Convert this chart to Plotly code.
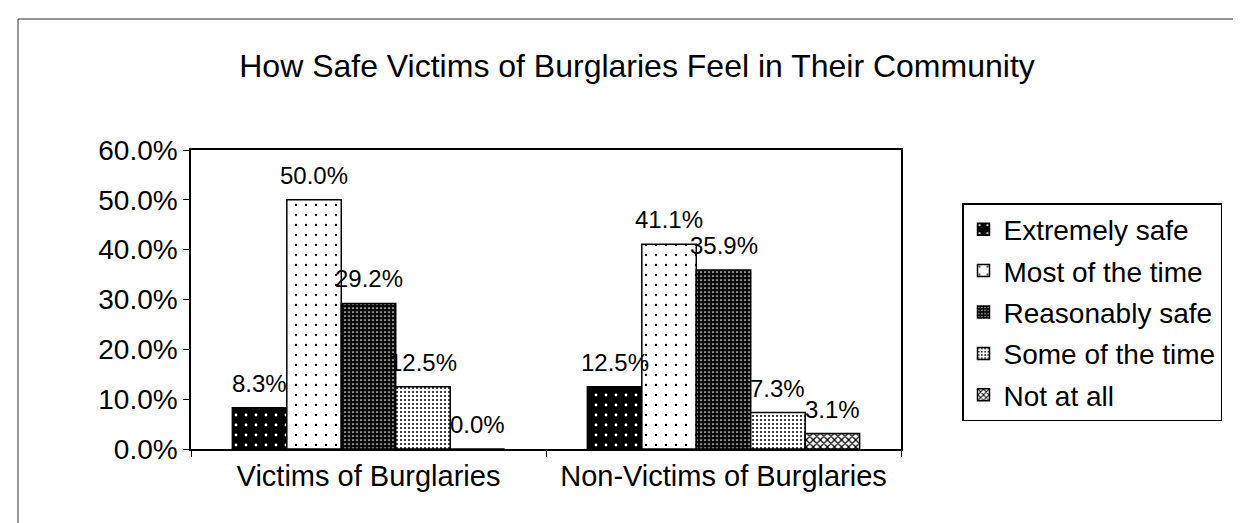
import plotly.graph_objects as go

categories = ["Victims of Burglaries", "Non-Victims of Burglaries"]
series_names = ["Extremely safe", "Most of the time", "Reasonably safe", "Some of the time", "Not at all"]
extremely_safe = [0.083, 0.125]
most_of_the_time = [0.500, 0.411]
reasonably_safe = [0.292, 0.359]
some_of_the_time = [0.125, 0.073]
not_at_all = [0.000, 0.031]
y_tick_values = [0.0, 0.1, 0.2, 0.3, 0.4, 0.5, 0.6]
title_text = "How Safe Victims of Burglaries Feel in Their Community"

series_values = [extremely_safe, most_of_the_time, reasonably_safe, some_of_the_time, not_at_all]

patterns = [
    dict(shape=".", bgcolor="#000000", fgcolor="#ffffff", size=10, solidity=0.06, fillmode="replace"),
    dict(shape=".", bgcolor="#ffffff", fgcolor="#000000", size=10, solidity=0.04, fillmode="replace"),
    dict(shape=".", bgcolor="#0a0a0a", fgcolor="#ffffff", size=4, solidity=0.14, fillmode="replace"),
    dict(shape=".", bgcolor="#ffffff", fgcolor="#000000", size=4, solidity=0.2, fillmode="replace"),
    dict(shape="x", bgcolor="#ffffff", fgcolor="#000000", size=5, solidity=0.45, fillmode="replace"),
]
base_colors = ["#000000", "#ffffff", "#0a0a0a", "#ffffff", "#ffffff"]

FONT = "Arial, 'Liberation Sans', sans-serif"
BARGAP = 0.233

fig = go.Figure()
n = len(series_names)
group_w = 1 - BARGAP
bar_w = group_w / n
annotations = []
for i, (name, vals) in enumerate(zip(series_names, series_values)):
    fig.add_trace(go.Bar(
        x=categories, y=vals, name=name,
        legendgroup=name,
        marker=dict(color=base_colors[i], pattern=patterns[i],
                    line=dict(color="#000000", width=1.5)),
    ))
    offset = -group_w / 2 + (i + 0.5) * bar_w
    for ci, v in enumerate(vals):
        annotations.append(dict(
            x=ci + offset, y=v, xref="x", yref="y",
            text=f"{v*100:.1f}%", showarrow=False,
            xanchor="center", yanchor="bottom", yshift=9,
            font=dict(family=FONT, size=24, color="#000000"),
        ))

W, H = 1241, 523
L, R, T, B = 183, 893, 142, 441
pw, ph = R - L, B - T

def px(x):
    return (x - L) / pw

def py(y):
    return (B - y) / ph

fig.update_layout(
    width=W, height=H,
    margin=dict(l=L, r=W - R, t=T, b=H - B, autoexpand=False),
    paper_bgcolor="#ffffff", plot_bgcolor="#ffffff",
    barmode="group", bargap=BARGAP, bargroupgap=0,
    font=dict(family=FONT, size=28, color="#000000"),
    title=dict(text=title_text, x=px(629), xref="paper", xanchor="center",
               y=1 - 58 / H, yref="container", yanchor="middle",
               font=dict(family=FONT, size=32, color="#000000")),
    showlegend=True,
    legend=dict(x=px(954), y=py(195), xanchor="left", yanchor="top",
                bordercolor="#000000", borderwidth=1.5, bgcolor="#ffffff",
                font=dict(family=FONT, size=28, color="#000000"),
                tracegroupgap=2, traceorder="grouped",
                itemwidth=30),
    xaxis=dict(type="category", showline=True, linecolor="#000000", linewidth=1.5,
               mirror=True, ticks="outside", ticklen=6, tickcolor="#000000",
               tickson="boundaries", showgrid=False, zeroline=False,
               tickfont=dict(family=FONT, size=29, color="#000000")),
    yaxis=dict(range=[0, 0.6], tickvals=y_tick_values, tickformat=".1%",
               showline=True, linecolor="#000000", linewidth=1.5, mirror=True,
               ticks="outside", ticklen=6, tickcolor="#000000",
               showgrid=False, zeroline=False,
               tickfont=dict(family=FONT, size=28, color="#000000")),
    annotations=annotations,
    shapes=[dict(type="rect", xref="paper", yref="paper",
                 x0=px(10), x1=px(1260), y0=py(540), y1=py(11),
                 line=dict(color="#333333", width=1), fillcolor="rgba(0,0,0,0)",
                 layer="below")],
)

fig.write_html("out.html")
